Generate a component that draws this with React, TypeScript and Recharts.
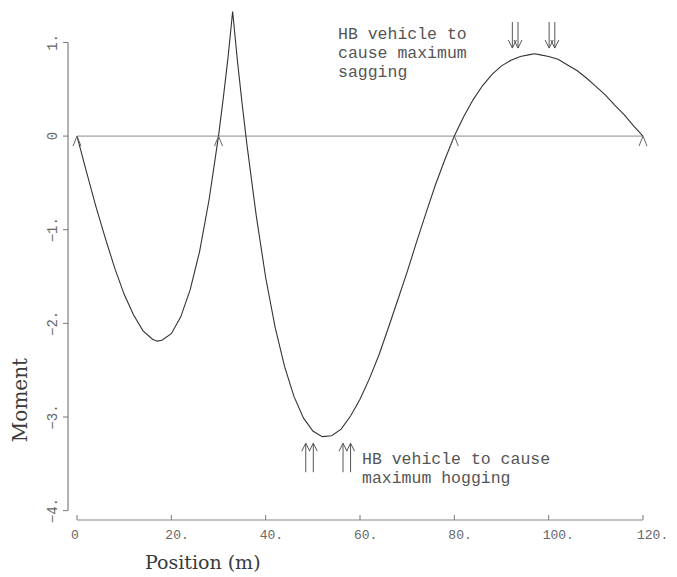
import {
  ComposedChart,
  Line,
  XAxis,
  YAxis,
  ReferenceLine,
  ReferenceDot,
} from 'recharts';

// influence line for moment (m, moment)
const positions = [
  0, 2, 4, 6, 8, 10, 12, 14, 16, 17, 18, 20, 22, 24, 26, 28, 30,
  31, 32, 33, 34, 35, 36, 38, 40, 42, 44, 46, 48, 50, 52, 54, 56, 58, 60,
  62, 64, 66, 68, 70, 72, 74, 76, 78, 80,
  82, 84, 86, 88, 90, 92, 94, 96, 97, 98, 100, 102, 104, 106, 108, 110,
  112, 114, 116, 118, 120,
];
const moments = [
  0, -0.38, -0.75, -1.09, -1.41, -1.69, -1.91, -2.08, -2.17, -2.19, -2.18, -2.11, -1.93, -1.64, -1.23, -0.68, 0,
  0.4, 0.83, 1.33, 0.81, 0.35, -0.08, -0.85, -1.51, -2.04, -2.46, -2.78, -3.01, -3.15, -3.21, -3.2, -3.13, -2.99, -2.81,
  -2.59, -2.34, -2.05, -1.75, -1.45, -1.13, -0.82, -0.52, -0.25, 0,
  0.21, 0.39, 0.54, 0.66, 0.75, 0.81, 0.85, 0.87, 0.88, 0.87, 0.85, 0.82, 0.76, 0.7, 0.62, 0.53,
  0.44, 0.33, 0.23, 0.11, 0,
];

const supports = [0, 30, 80, 120];

// HB axle positions for the two load cases
const saggingAxles = [92.3, 93.5, 100.1, 101.3];
const saggingTip = 0.94;
const hoggingAxles = [48.5, 50.1, 56.4, 58.0];
const hoggingTip = -3.28;

const xTicks = [0, 20, 40, 60, 80, 100, 120];
const xTickLabels = ['0', '20.', '40.', '60.', '80.', '100.', '120.'];
const yTicks = [-4, -3, -2, -1, 0, 1];
const yTickLabels = ['−4.', '−3.', '−2.', '−1.', '0', '1.'];

const data = positions.map((x, i) => ({ x, m: moments[i] }));

const ink = '#3a3a3a';
const tickFont = { fontFamily: 'Liberation Mono', fontSize: 13, fill: '#666' };

function XTick({ x, y, payload }: any) {
  const label = xTickLabels[xTicks.indexOf(payload.value)];
  return (
    <g>
      <line x1={x} y1={y} x2={x} y2={y - 5} stroke="#777" />
      <text x={x - 6} y={y + 19} textAnchor="start" {...tickFont}>{label}</text>
    </g>
  );
}

function YTick({ y, payload }: any) {
  const label = yTickLabels[yTicks.indexOf(payload.value)];
  return (
    <g>
      <line x1={63} y1={y} x2={68} y2={y} stroke="#777" />
      <text
        x={53}
        y={y}
        transform={`rotate(-90 53 ${y})`}
        textAnchor="middle"
        dominantBaseline="central"
        {...tickFont}
        fontSize={14}
      >
        {label}
      </text>
    </g>
  );
}

function SupportMark({ cx, cy }: any) {
  return (
    <polyline
      points={`${cx - 4},${cy + 10} ${cx},${cy} ${cx + 4},${cy + 10}`}
      fill="none"
      stroke="#666"
      strokeWidth={1}
    />
  );
}

function DownArrow({ cx, cy }: any) {
  return (
    <g stroke="#555" strokeWidth={1} fill="none">
      <line x1={cx} y1={cy - 26} x2={cx} y2={cy} />
      <polyline points={`${cx - 4},${cy - 8} ${cx},${cy} ${cx + 4},${cy - 8}`} />
    </g>
  );
}

function UpArrow({ cx, cy }: any) {
  return (
    <g stroke="#555" strokeWidth={1} fill="none">
      <line x1={cx} y1={cy + 29} x2={cx} y2={cy} />
      <polyline points={`${cx - 4},${cy + 8} ${cx},${cy} ${cx + 4},${cy + 8}`} />
    </g>
  );
}

const noteStyle: React.CSSProperties = {
  position: 'absolute',
  fontFamily: 'Liberation Mono',
  fontSize: 16.5,
  lineHeight: '19px',
  color: '#555',
  whiteSpace: 'pre',
};

export default function App() {
  return (
    <div style={{ position: 'absolute', left: 0, top: 0, width: 677, height: 577, background: '#fff' }}>
      <ComposedChart
        width={677}
        height={577}
        data={data}
        margin={{ top: 5, right: 34, bottom: 27, left: 0 }}
      >
        <XAxis
          type="number"
          dataKey="x"
          domain={[0, 120]}
          ticks={xTicks}
          interval={0}
          height={30}
          axisLine={{ stroke: '#888' }}
          tickLine={false}
          tickSize={0}
          tickMargin={0}
          tick={XTick}
        />
        <YAxis
          type="number"
          domain={[-4.1, 1.4]}
          ticks={yTicks}
          interval={0}
          width={77}
          axisLine={false}
          tickLine={false}
          tickSize={0}
          tickMargin={0}
          tick={YTick}
        />
        {/* y axis drawn a little left of x=0, only from -4 to 1 */}
        <ReferenceLine
          segment={[{ x: -1.9, y: -4 }, { x: -1.9, y: 1 }]}
          stroke="#666"
          ifOverflow="visible"
        />
        <ReferenceLine y={0} stroke="#8a8a8a" />
        {supports.map((s) => (
          <ReferenceDot key={'s' + s} x={s} y={0} r={0} ifOverflow="visible" shape={SupportMark} />
        ))}
        {saggingAxles.map((a) => (
          <ReferenceDot key={'d' + a} x={a} y={saggingTip} r={0} ifOverflow="visible" shape={DownArrow} />
        ))}
        {hoggingAxles.map((a) => (
          <ReferenceDot key={'u' + a} x={a} y={hoggingTip} r={0} ifOverflow="visible" shape={UpArrow} />
        ))}
        <Line
          type="linear"
          dataKey="m"
          stroke="#333"
          strokeWidth={1.1}
          dot={false}
          isAnimationActive={false}
        />
      </ComposedChart>

      <div style={{ ...noteStyle, left: 338, top: 25 }}>
        {'HB vehicle to\ncause maximum\nsagging'}
      </div>
      <div style={{ ...noteStyle, left: 362, top: 450 }}>
        {'HB vehicle to cause\nmaximum hogging'}
      </div>

      <div
        style={{
          position: 'absolute',
          left: 20,
          top: 400,
          transform: 'translate(-50%, -50%) rotate(-90deg)',
          fontFamily: 'DejaVu Serif',
          fontSize: 20,
          lineHeight: 1,
          color: ink,
          whiteSpace: 'nowrap',
        }}
      >
        Moment
      </div>
      <div
        style={{
          position: 'absolute',
          left: 145,
          top: 551,
          fontFamily: 'DejaVu Serif',
          fontSize: 19,
          lineHeight: 1.2,
          color: ink,
          whiteSpace: 'nowrap',
        }}
      >
        Position (m)
      </div>
    </div>
  );
}
